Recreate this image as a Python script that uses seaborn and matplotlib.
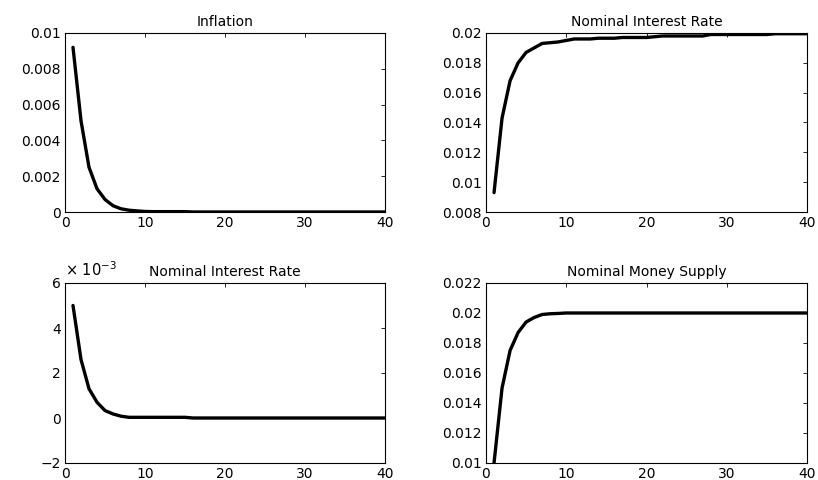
import matplotlib
matplotlib.use("Agg")
import matplotlib.pyplot as plt
import seaborn as sns
import pandas as pd
import numpy as np
from matplotlib.ticker import FuncFormatter

periods = list(range(1, 41))

inflation = [0.0092, 0.0051, 0.0025, 0.0013, 0.0007, 0.00035, 0.00018, 0.0001, 0.00006, 0.00003] + [0.00002] * 5 + [0.0] * 25

nominal_rate_top = [0.0093, 0.0143, 0.0168, 0.0180, 0.0187, 0.0190, 0.0193, 0.01935, 0.0194, 0.0195,
                    0.0196, 0.0196, 0.0196, 0.01965, 0.01965, 0.01965, 0.0197, 0.0197, 0.0197, 0.0197,
                    0.01975, 0.0198, 0.0198, 0.0198, 0.0198, 0.0198, 0.0198, 0.0199, 0.0199, 0.0199,
                    0.0199, 0.0199, 0.0199, 0.0199, 0.0199, 0.01995, 0.01995, 0.01995, 0.01995, 0.01995]

nominal_rate_bottom = [5.0e-3, 2.6e-3, 1.3e-3, 0.7e-3, 0.33e-3, 0.18e-3, 0.08e-3, 0.03e-3, 0.03e-3, 0.03e-3,
                       0.03e-3, 0.03e-3, 0.03e-3, 0.03e-3, 0.03e-3] + [0.0] * 25

money_supply = [0.0100, 0.0150, 0.0175, 0.0187, 0.0194, 0.0197, 0.0199, 0.01995, 0.01997, 0.0200] + [0.0200] * 30

titles = ["Inflation", "Nominal Interest Rate", "Nominal Interest Rate", "Nominal Money Supply"]

sns.set_style("white")
plt.rcParams["font.family"] = ["DejaVu Sans"]
plt.rcParams["axes.unicode_minus"] = True
plt.rcParams["text.color"] = "black"
plt.rcParams["axes.titlecolor"] = "black"

fig = plt.figure(figsize=(8.18, 4.8), dpi=100)

W = 818.0
H = 480.0
def rect(l, t, r, b):
    return [l / W, (H - b) / H, (r - l) / W, (b - t) / H]

axes_rects = [rect(65, 33, 385, 212), rect(486, 33, 807, 212),
              rect(65, 283, 385, 463), rect(486, 283, 807, 463)]

series = [inflation, nominal_rate_top, [v * 1e3 for v in nominal_rate_bottom], money_supply]
ylims = [(0, 0.01), (0.008, 0.02), (-2, 6), (0.01, 0.022)]
yticks = [np.arange(0, 0.0101, 0.002), np.arange(0.008, 0.0201, 0.002),
          np.arange(-2, 6.1, 2), np.arange(0.01, 0.0221, 0.002)]

fmt = FuncFormatter(lambda v, p: ("%g" % round(v, 6)).replace("-", "\u2212"))

for i in range(4):
    ax = fig.add_axes(axes_rects[i])
    df = pd.DataFrame({"t": periods, "v": series[i]})
    sns.lineplot(data=df, x="t", y="v", ax=ax, color="black", linewidth=2.4)
    ax.set_xlim(0, 40)
    ax.set_ylim(*ylims[i])
    ax.set_xticks([0, 10, 20, 30, 40])
    ax.set_yticks(yticks[i])
    ax.yaxis.set_major_formatter(fmt)
    ax.set_xlabel("")
    ax.set_ylabel("")
    ax.set_title(titles[i], fontsize=10, pad=5, color="black")
    ax.tick_params(direction="in", length=3, width=0.6, top=True, right=True,
                   labelsize=10, pad=3, colors="black")
    for s in ax.spines.values():
        s.set_linewidth(0.8)
        s.set_color("black")
    if i == 2:
        ax.text(0.0, 1.02, "\u00d7 10$^{\u22123}$", transform=ax.transAxes,
                fontsize=10.5, ha="left", va="bottom", color="black")

fig.savefig("out.png", dpi=100)
